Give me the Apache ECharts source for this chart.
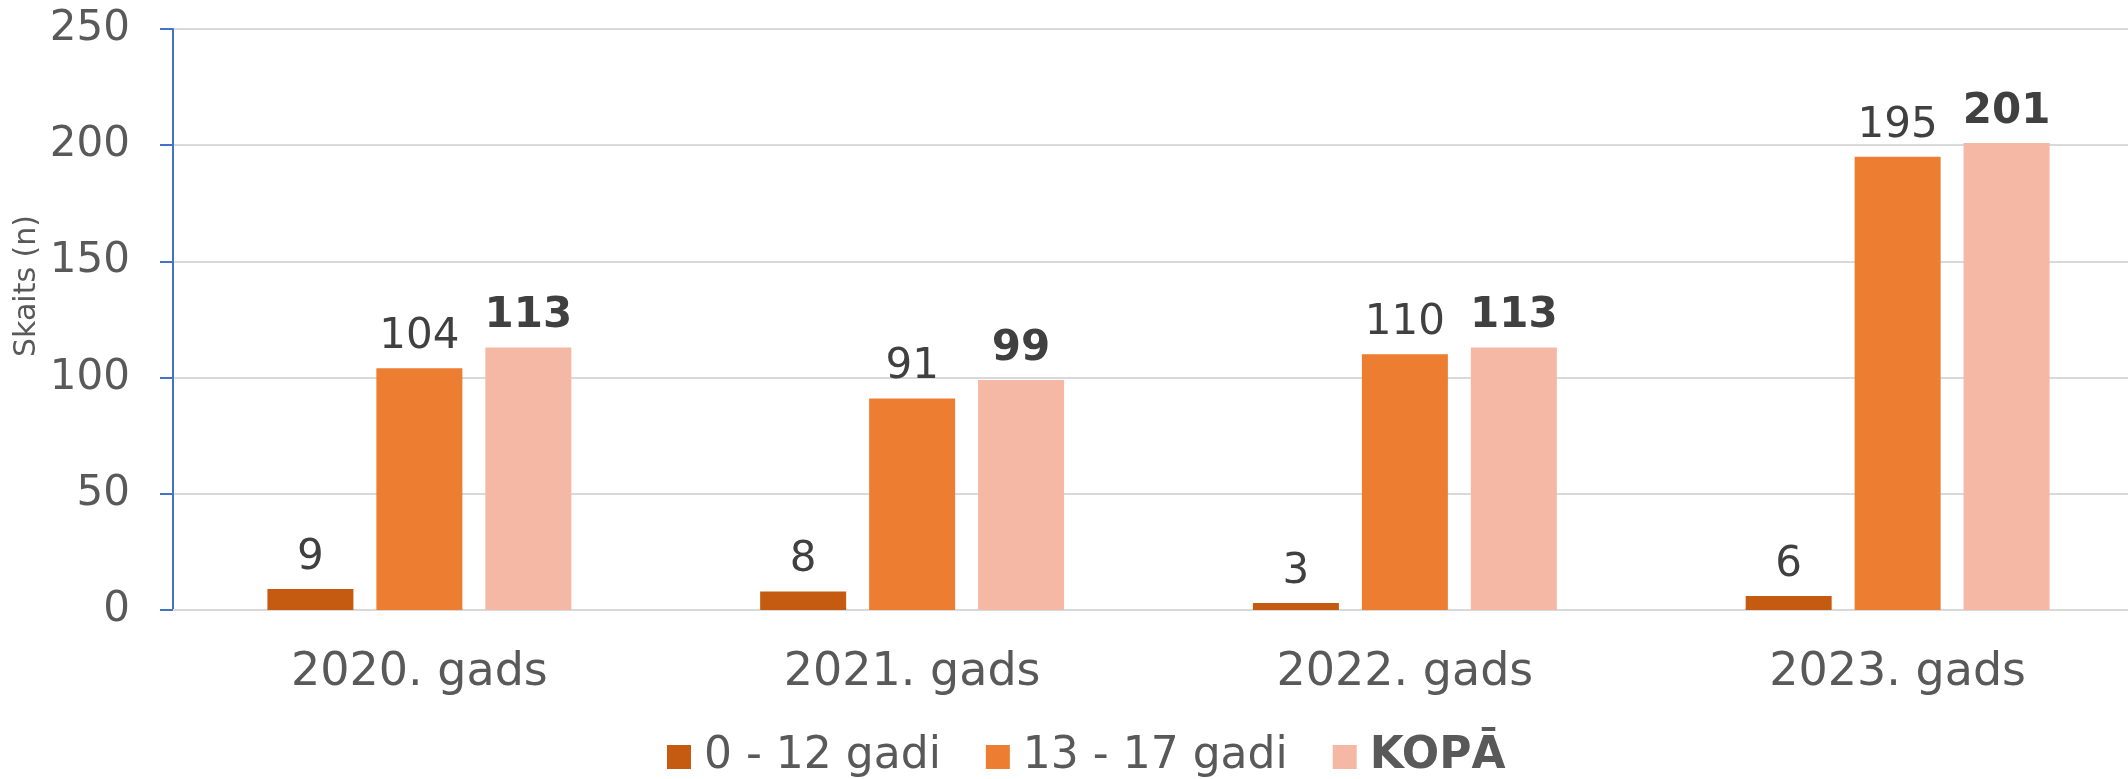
<!DOCTYPE html>
<html>
<head>
<meta charset="utf-8">
<script src="https://cdn.jsdelivr.net/npm/echarts@6/dist/echarts.min.js"></script>
<style>
html,body{margin:0;padding:0;background:#fff;overflow:hidden;width:2128px;height:779px;}
#chart{width:2144px;height:779px;}
</style>
</head>
<body>
<div id="chart"></div>
<script>
const categories = ['2020. gads', '2021. gads', '2022. gads', '2023. gads'];
const seriesNames = ['0 - 12 gadi', '13 - 17 gadi', 'KOPĀ'];
const age0to12 = [9, 8, 3, 6];
const age13to17 = [104, 91, 110, 195];
const total = [113, 99, 113, 201];
const yTicks = { min: 0, max: 250, interval: 50 };
const yAxisTitle = 'Skaits (n)';

const FONT = 'DejaVu Sans';
const chart = echarts.init(document.getElementById('chart'), null, { renderer: 'canvas' });

function labelCfg(bold) {
  return {
    show: true,
    position: 'top',
    distance: 10,
    fontFamily: FONT,
    fontSize: 42,
    color: '#404040',
    fontWeight: bold ? 'bold' : 'normal'
  };
}

chart.setOption({
  animation: false,
  backgroundColor: '#ffffff',
  grid: { left: 173, top: 29, right: 0, height: 581, containLabel: false },
  legend: {
    data: seriesNames,
    left: 662,
    top: 730,
    icon: 'rect',
    itemWidth: 24,
    itemHeight: 24,
    itemGap: 45,
    textStyle: {
      fontFamily: FONT,
      fontSize: 44,
      color: '#595959',
      padding: [0, 0, 0, 8],
      rich: {
        b: { fontFamily: FONT, fontSize: 44, fontWeight: 'bold', color: '#595959' }
      }
    },
    formatter: function (name) { return name === 'KOPĀ' ? '{b|' + name + '}' : name; }
  },
  graphic: [{
    type: 'text',
    x: 27,
    y: 286,
    rotation: Math.PI / 2,
    style: {
      text: yAxisTitle,
      fontFamily: FONT,
      fontSize: 30,
      fill: '#595959',
      align: 'center',
      verticalAlign: 'middle'
    }
  }],
  xAxis: {
    type: 'category',
    data: categories,
    axisLine: { show: true, lineStyle: { color: '#D9D9D9', width: 2 } },
    axisTick: { show: false },
    axisLabel: { fontFamily: FONT, fontSize: 46, color: '#595959', margin: 40 },
    splitLine: { show: false }
  },
  yAxis: {
    type: 'value',
    min: yTicks.min,
    max: yTicks.max,
    interval: yTicks.interval,
    axisLine: { show: true, lineStyle: { color: '#4472C4', width: 2 } },
    axisTick: { show: true, length: 13, lineStyle: { color: '#4472C4', width: 2 } },
    axisLabel: { fontFamily: FONT, fontSize: 42, color: '#595959', margin: 43 },
    splitLine: { show: true, lineStyle: { color: '#D9D9D9', width: 2 } }
  },
  series: [
    {
      name: seriesNames[0], type: 'bar', data: age0to12,
      barWidth: 86, barGap: '26.7%',
      itemStyle: { color: '#C55A11' },
      label: labelCfg(false)
    },
    {
      name: seriesNames[1], type: 'bar', data: age13to17,
      barWidth: 86, barGap: '26.7%',
      itemStyle: { color: '#ED7D31' },
      label: labelCfg(false)
    },
    {
      name: seriesNames[2], type: 'bar', data: total,
      barWidth: 86, barGap: '26.7%',
      itemStyle: { color: '#F4B8A5' },
      label: labelCfg(true)
    }
  ]
});
</script>
</body>
</html>
